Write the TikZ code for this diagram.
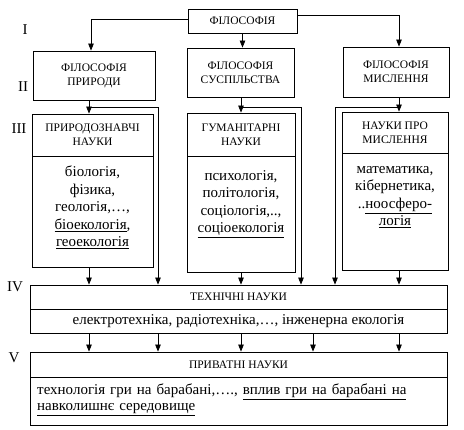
\documentclass[tikz,border=0pt]{standalone}
\usepackage{fontspec}
\setmainfont{Liberation Serif}
\usetikzlibrary{arrows.meta}
\begin{document}
\begin{tikzpicture}[x=1pt,y=-1pt,
  box/.style={draw, line width=0.8pt, inner sep=0pt, align=center},
  hd/.style={font=\fontsize{11.5}{14}\selectfont},
  bd/.style={font=\fontsize{15}{17.5}\selectfont, align=center, inner sep=0pt},
  arr/.style={draw, line width=0.8pt, -{Triangle[length=7pt,width=5.5pt]}},
  ln/.style={draw, line width=0.8pt},
  lvl/.style={font=\fontsize{15}{16}\selectfont, inner sep=0pt}]
\useasboundingbox (0,0) rectangle (464,430);
% level labels
\node[lvl] (l1) at (25,30) {I};
\node[lvl] (l2) at (23,87) {II};
\node[lvl] (l3) at (19,129) {III};
\node[lvl] (l4) at (15,287) {IV};
\node[lvl] (l5) at (14,358) {V};
% level I
\node[box,hd,minimum width=109pt,minimum height=24pt] (phil) at (242.5,21) {ФІЛОСОФІЯ};
% level II
\node[box,hd,minimum width=122pt,minimum height=49pt] (np) at (94,75.5) {ФІЛОСОФІЯ\\ПРИРОДИ};
\node[box,hd,minimum width=107pt,minimum height=49pt] (sp) at (240.5,72.5) {ФІЛОСОФІЯ\\СУСПІЛЬСТВА};
\node[box,hd,minimum width=106pt,minimum height=50pt] (mp) at (396,72) {ФІЛОСОФІЯ\\МИСЛЕННЯ};
% level III
\node[box,hd,minimum width=121pt,minimum height=42pt] (nh) at (92.5,135) {ПРИРОДОЗНАВЧІ\\НАУКИ};
\node[box,minimum width=121pt,minimum height=111pt] (nb) at (92.5,211.5) {};
\node[bd,anchor=north] (nt) at (92.5,166) {біологія,\\фізика,\\геологія,…,\\\underline{біоекологія},\\\underline{геоекологія}};
\node[box,hd,minimum width=108pt,minimum height=43pt] (sh) at (241,134.5) {ГУМАНІТАРНІ\\НАУКИ};
\node[box,minimum width=108pt,minimum height=116pt] (sb) at (241,214) {};
\node[bd,anchor=north] (st) at (241,170) {психологія,\\політологія,\\соціологія,..,\\\underline{соціоекологія}};
\node[box,hd,minimum width=106pt,minimum height=41pt] (mh) at (395,132.5) {НАУКИ ПРО\\МИСЛЕННЯ};
\node[box,minimum width=106pt,minimum height=117pt] (mb) at (395,211.5) {};
\node[bd,anchor=north] (mt) at (395,166) {математика,\\кібернетика,\\..\underline{ноосферо-}\\\underline{логія}};
% level IV
\node[box,hd,minimum width=417pt,minimum height=24pt] (tn) at (238.5,297) {ТЕХНІЧНІ НАУКИ};
\node[box,bd,minimum width=417pt,minimum height=24pt] (tb) at (238.5,321) {електротехніка, радіотехніка,…, інженерна екологія};
% level V
\node[box,hd,minimum width=417pt,minimum height=25pt] (vn) at (238.5,364.5) {ПРИВАТНІ НАУКИ};
\node[box,minimum width=417pt,minimum height=48pt] (vb) at (238.5,401) {};
\node[bd,anchor=north west,text width=405pt,align=left,font=\fontsize{15}{16}\selectfont] (vt) at (37,384) {технологія гри на барабані,…., \underline{вплив гри на барабані на}\\\underline{навколишнє середовище}};
% junction coordinates
\coordinate (j1) at (89,107);
\coordinate (b1) at (158,107);
\coordinate (j2) at (241,107);
\coordinate (b2) at (301,107);
\coordinate (j3) at (399,107);
\coordinate (b3) at (335,107);
\coordinate (m4) at (313,0);
% connectors I -> II
\draw[arr] ([yshift=2pt]phil.west) -| ([xshift=-3pt]np.north);
\draw[arr] (phil.south) -- (phil.south |- sp.north);
\draw[arr] ([yshift=6pt]phil.east) -| ([xshift=3pt]mp.north);
% II -> III and bypass to IV
\draw[arr] (np.south -| j1) -- (nh.north -| j1);
\draw[arr] (j1) -- (b1) -- (b1 |- tn.north);
\draw[arr] (sp.south -| j2) -- (sh.north -| j2);
\draw[arr] (j2) -- (b2) -- (b2 |- tn.north);
\draw[arr] (mp.south -| j3) -- (mh.north -| j3);
\draw[arr] (j3) -- (b3) -- (b3 |- tn.north);
% III -> IV
\draw[arr] (nb.south -| j1) -- (tn.north -| j1);
\draw[arr] (sb.south -| j2) -- (tn.north -| j2);
\draw[arr] (mb.south -| j3) -- (tn.north -| j3);
% IV -> V
\draw[arr] (tb.south -| j1) -- (vn.north -| j1);
\draw[arr] (tb.south -| b1) -- (vn.north -| b1);
\draw[arr] (tb.south -| j2) -- (vn.north -| j2);
\draw[arr] (tb.south -| m4) -- (vn.north -| m4);
\draw[arr] (tb.south -| j3) -- (vn.north -| j3);
\end{tikzpicture}
\end{document}
